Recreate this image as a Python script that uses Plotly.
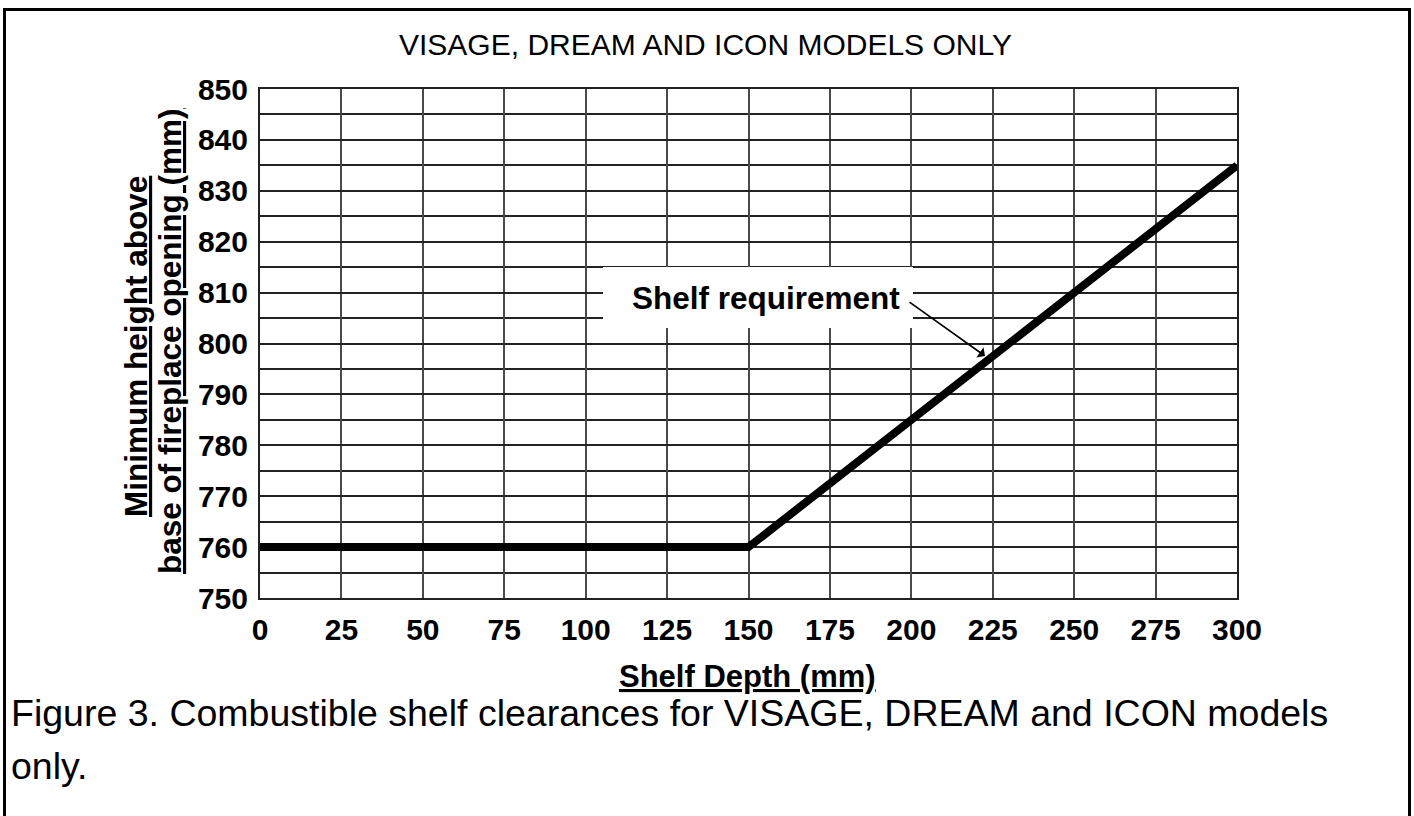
import plotly.graph_objects as go

# ---- data ----
shelf_depth = [0, 150, 300]          # mm
min_height = [760, 760, 835]         # mm
x_ticks = [0, 25, 50, 75, 100, 125, 150, 175, 200, 225, 250, 275, 300]
y_ticks = [750, 760, 770, 780, 790, 800, 810, 820, 830, 840, 850]

title_text = "VISAGE, DREAM AND ICON MODELS ONLY"
caption_line1 = "Figure 3. Combustible shelf clearances for VISAGE, DREAM and ICON models"
caption_line2 = "only."
label_text = "Shelf requirement"

W, H = 1414, 816
L, R, T, B = 260, 1237, 89, 598  # plot area in pixels

def px_x(p):  # pixel -> paper
    return (p - L) / (R - L)

def px_y(p):
    return (B - p) / (B - T)

FONT = "Liberation Sans, Arial, sans-serif"

fig = go.Figure()
fig.add_trace(go.Scatter(
    x=shelf_depth, y=min_height, mode="lines",
    line=dict(color="black", width=8),
    hoverinfo="skip", showlegend=False,
))

fig.update_layout(
    width=W, height=H,
    margin=dict(l=L, r=W - R, t=T, b=H - B),
    paper_bgcolor="white", plot_bgcolor="white",
    showlegend=False,
    xaxis=dict(
        range=[0, 300], tickvals=x_ticks, ticktext=[str(v) for v in x_ticks],
        showgrid=True, gridcolor="#4a4a4a", gridwidth=2,
        showline=True, mirror=True, linecolor="#222", linewidth=2,
        zeroline=False, ticks="",
        tickfont=dict(family=FONT, size=30, color="black", weight="bold"),
        ticklabelstandoff=4,
    ),
    yaxis=dict(
        range=[750, 850], tickvals=y_ticks, ticktext=[str(v) for v in y_ticks],
        showgrid=True, gridcolor="#222", gridwidth=1.5,
        minor=dict(dtick=5, showgrid=True, gridcolor="#222", gridwidth=1.5),
        showline=True, mirror=True, linecolor="#222", linewidth=2,
        zeroline=False, ticks="",
        tickfont=dict(family=FONT, size=30, color="black", weight="bold"),
        ticklabelstandoff=4,
    ),
)

annotations = [
    # title
    dict(text=title_text, xref="paper", yref="paper", x=px_x(705), y=px_y(45),
         xanchor="center", yanchor="middle", showarrow=False,
         font=dict(family=FONT, size=30, color="black")),
    # x-axis title
    dict(text="<u>Shelf Depth (mm)</u>", xref="paper", yref="paper", x=px_x(747), y=px_y(676),
         xanchor="center", yanchor="middle", showarrow=False,
         font=dict(family=FONT, size=31, color="black", weight="bold")),
    # y-axis title line 1
    dict(text="<u>Minimum height above</u>", xref="paper", yref="paper", x=px_x(136), y=px_y(347),
         xanchor="center", yanchor="middle", showarrow=False, textangle=-90,
         font=dict(family=FONT, size=31.5, color="black", weight="bold")),
    # y-axis title line 2
    dict(text="<u>base of fireplace opening (mm)</u>", xref="paper", yref="paper", x=px_x(170), y=px_y(341),
         xanchor="center", yanchor="middle", showarrow=False, textangle=-90,
         font=dict(family=FONT, size=31.5, color="black", weight="bold")),
    # caption
    dict(text=caption_line1, xref="paper", yref="paper", x=px_x(9), y=px_y(713),
         xanchor="left", yanchor="middle", showarrow=False,
         font=dict(family=FONT, size=37.5, color="black")),
    dict(text=caption_line2, xref="paper", yref="paper", x=px_x(9), y=px_y(766),
         xanchor="left", yanchor="middle", showarrow=False,
         font=dict(family=FONT, size=37.5, color="black")),
    # label text
    dict(text="<b>" + label_text + "</b>", xref="paper", yref="paper", x=px_x(766), y=px_y(298),
         xanchor="center", yanchor="middle", showarrow=False,
         font=dict(family=FONT, size=31.5, color="black")),
    # arrow
    dict(text="", xref="paper", yref="paper", x=px_x(985), y=px_y(356),
         axref="pixel", ayref="pixel", ax=-77, ay=-55,
         showarrow=True, arrowhead=1, arrowsize=1.3, arrowwidth=1.6, arrowcolor="black",
         standoff=0),
]
fig.update_layout(annotations=annotations)

# white box behind the label (covers the grid)
fig.add_shape(type="rect", xref="paper", yref="paper",
              x0=px_x(603), x1=px_x(913), y0=px_y(328), y1=px_y(267),
              line=dict(width=0), fillcolor="white", layer="above")

# outer frame
fig.add_shape(type="rect", xref="paper", yref="paper",
              x0=px_x(4.5), x1=px_x(1409.5), y0=px_y(9.5), y1=px_y(850),
              line=dict(color="black", width=3), fillcolor="rgba(0,0,0,0)", layer="above")

fig.write_html(
    "out.html",
    config={"displayModeBar": False},
    post_script="document.body.style.margin='0px';document.body.style.overflow='hidden';",
)
